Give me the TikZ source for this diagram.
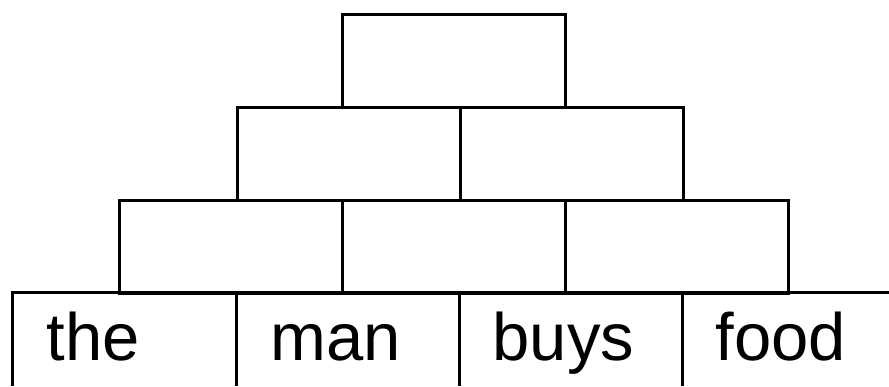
\documentclass[tikz,border=0pt]{standalone}
\usepackage{fontspec}
\setmainfont{Liberation Sans}
\begin{document}
\begin{tikzpicture}[x=1pt,y=-1pt,line width=3pt,
  cell/.style={draw,rectangle,inner sep=0pt,minimum width=223pt,minimum height=93pt,anchor=north west},
  word/.style={anchor=base west,inner sep=0pt,font=\fontsize{67pt}{67pt}\selectfont}]
\useasboundingbox (0,0) rectangle (889,386);
\node[cell] (top) at (341,12.5) {};
\node[cell] (l2a) at (236,105.5) {};
\node[cell] (l2b) at (459,105.5) {};
\node[cell] (l3a) at (118,198.5) {};
\node[cell] (l3b) at (341,198.5) {};
\node[cell] (l3c) at (564,198.5) {};
\coordinate (bl) at (12.5,292);
\coordinate (br) at (889,292);
\draw (bl) ++(0,0) -- (12.5,386);
\draw ([xshift=-1.5pt]bl) -- (br);
\draw (236,292) -- (236,386);
\draw (459,292) -- (459,386);
\draw (682,292) -- (682,386);
\node[word] (w1) at (45,360) {the};
\node[word] (w2) at (269,360) {man};
\node[word] (w3) at (491,360) {buys};
\node[word] (w4) at (714,360) {food};
\end{tikzpicture}
\end{document}
